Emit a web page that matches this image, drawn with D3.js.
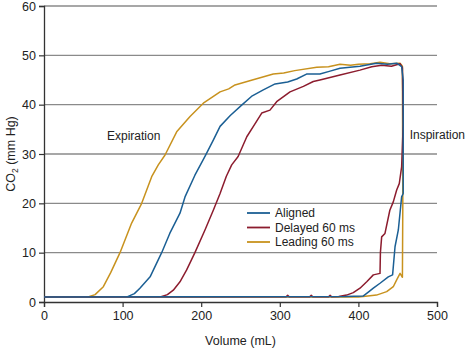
<!DOCTYPE html>
<html>
<head>
<meta charset="utf-8">
<script src="https://cdn.jsdelivr.net/npm/d3@7"></script>
<style>
  html, body { margin: 0; padding: 0; background: #fff; }
  svg { display: block; font-family: "Liberation Sans", Arial, sans-serif; }
</style>
</head>
<body>
<svg id="chart" width="468" height="348"></svg>
<script>
// ---- data (volume mL, CO2 mm Hg) ----
const seriesNames = ["Aligned", "Delayed 60 ms", "Leading 60 ms"];
const xTicks = [0, 100, 200, 300, 400, 500];
const yTicks = [0, 10, 20, 30, 40, 50, 60];

const leading = [[0,1],[56,1],[65,1.5],[75.5,3.1],[85,6],[96.7,10],[111.5,16],[124.3,20],[137,25.4],[145.4,27.8],[154,29.8],[168.8,34.5],[185.8,37.6],[202.7,40.3],[224,42.6],[235,43.2],[243,44],[265,45],[291.7,46.2],[305,46.4],[319,46.9],[347,47.6],[362,47.7],[376.6,48.2],[390,48],[400,48.2],[415,48.3],[427.5,48.6],[440,48.3],[453,48.4],[456,47.8],[456.5,20],[456,5],[453,5.8],[448.7,4.5],[444.4,3.1],[436,2.1],[423,1.4],[412,1.2],[400,1],[0,1]];

const aligned = [[0,1],[105,1],[115,1.7],[122,2.8],[135,5.1],[149.7,10],[160,13.9],[173,18],[179.4,21.3],[192,25.7],[204.8,29.5],[215.4,32.8],[224,35.6],[237,37.8],[251.5,39.9],[265,41.8],[279,43],[294,44.2],[310,44.6],[321.5,45.2],[334,46.2],[351,46.2],[364,46.8],[376.6,47.4],[402,47.8],[423,48.4],[437,48.2],[448.7,48.4],[455,47.7],[457,45],[457,22],[455,21.3],[450.8,14.6],[446.6,11.2],[443.5,5.5],[438,5.1],[427.5,3.8],[419,2.8],[412.6,2],[406,1.2],[383,1.1],[0,1]];

const delayed = [[0,1],[148,1],[157,1.5],[164.5,2.4],[173,4.1],[181.5,6.5],[192,10],[204.8,14.6],[215.4,18.6],[224,22],[232,25.5],[238.8,27.8],[247,29.5],[258,33.5],[268,36],[277,38.3],[287.5,38.9],[296,40.6],[313,42.6],[330,43.7],[342.6,44.7],[351,45],[376.6,46],[402,47],[417,47.7],[429.6,48],[442,47.8],[453,48.3],[456,47.5],[457,36],[455,27.4],[452,24],[448.7,22.7],[444.4,20.3],[440,18.6],[433.8,13.9],[429.6,13.2],[428,10],[427.5,5.8],[419,5.5],[410.6,4.1],[402,2.8],[393.5,1.9],[385,1.4],[375,1.1],[366,1.05],[364,1.35],[362,1.05],[342,1.05],[340,1.35],[338,1.05],[312,1.05],[310,1.35],[308,1.05],[0,1]];

const seriesData = [aligned, delayed, leading];
const colors = ["#1b5f94", "#8c1c2e", "#c8921e"];

// ---- layout ----
const svg = d3.select("#chart");
const x = d3.scaleLinear().domain([0, 500]).range([44, 437]);
const y = d3.scaleLinear().domain([0, 60]).range([302, 6]);

// grid lines
svg.append("g").selectAll("line").data(yTicks.filter(d => d > 0)).join("line")
  .attr("x1", x(0)).attr("x2", x(500))
  .attr("y1", d => y(d)).attr("y2", d => y(d))
  .attr("stroke", "#8a8a8a").attr("stroke-width", 1.3);

// axes
const xAxis = svg.append("g").attr("transform", `translate(0,${y(0)})`)
  .call(d3.axisBottom(x).tickValues(xTicks).tickSize(5).tickPadding(4));
const yAxis = svg.append("g").attr("transform", `translate(${x(0)},0)`)
  .call(d3.axisLeft(y).tickValues(yTicks).tickSize(5).tickPadding(3));
[xAxis, yAxis].forEach(g => {
  g.select(".domain").attr("stroke", "#333").attr("stroke-width", 1.3);
  g.selectAll(".tick line").attr("stroke", "#333").attr("stroke-width", 1.2);
  g.selectAll(".tick text").attr("fill", "#222").style("font-size", "12.5px")
    .style("font-family", "'Liberation Sans', Arial, sans-serif");
});

// lines (draw leading, delayed, then aligned on top)
const line = d3.line().x(d => x(d[0])).y(d => y(d[1]));
[2, 1, 0].forEach(i => {
  svg.append("path").datum(seriesData[i])
    .attr("fill", "none").attr("stroke", colors[i])
    .attr("stroke-width", 1.5).attr("stroke-linejoin", "round")
    .attr("d", line);
});

// annotations
svg.append("text").attr("x", 107).attr("y", 140).attr("font-size", 12).attr("fill", "#222").text("Expiration");
svg.append("text").attr("x", 465).attr("y", 139).attr("text-anchor", "end").attr("font-size", 12).attr("fill", "#222").text("Inspiration");

// legend
const legend = svg.append("g");
seriesNames.forEach((name, i) => {
  const ly = 213 + i * 14.5;
  legend.append("line").attr("x1", 247).attr("x2", 270).attr("y1", ly).attr("y2", ly)
    .attr("stroke", colors[i]).attr("stroke-width", 1.8);
  legend.append("text").attr("x", 275).attr("y", ly + 4.3).attr("font-size", 12).attr("fill", "#222").text(name);
});

// axis titles
svg.append("text").attr("x", x(250)).attr("y", 345).attr("text-anchor", "middle")
  .attr("font-size", 12.5).attr("fill", "#222").text("Volume (mL)");
const yt = svg.append("text").attr("transform", `translate(15,${y(30)}) rotate(-90)`)
  .attr("text-anchor", "middle").attr("font-size", 12.5).attr("fill", "#222");
yt.append("tspan").text("CO");
yt.append("tspan").attr("font-size", 8.5).attr("dy", 3).text("2");
yt.append("tspan").attr("dy", -3).text(" (mm Hg)");
</script>
</body>
</html>
